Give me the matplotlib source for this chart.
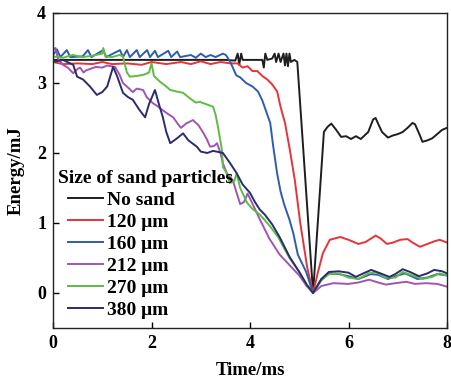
import matplotlib
matplotlib.use("Agg")
import matplotlib.pyplot as plt

plt.rcParams['font.family'] = ['Liberation Serif', 'DejaVu Serif']
plt.rcParams['font.weight'] = 'bold'

labels = ["No sand", "120 μm", "160 μm", "212 μm", "270 μm", "380 μm"]
legend_title = "Size of sand particles"
colors = ["#1e1e1e", "#e4343a", "#2d5db0", "#a155b3", "#5dbb46", "#2a2c6e"]

t_nosand = [0, 3.5, 3.7, 3.75, 3.78, 3.82, 3.85, 4.25, 4.28, 4.31, 4.35, 4.45, 4.5, 4.53, 4.58, 4.62,
            4.68, 4.71, 4.74, 4.77, 4.8, 4.83, 4.9, 4.96, 5.28, 5.5, 5.57, 5.65, 5.75, 5.85, 5.95,
            6.05, 6.15, 6.25, 6.4, 6.5, 6.55, 6.6, 6.68, 6.8, 6.9, 7.0, 7.1, 7.2, 7.3, 7.35, 7.45,
            7.5, 7.6, 7.7, 7.8, 7.9, 8.0]
e_nosand = [3.33, 3.33, 3.32, 3.42, 3.26, 3.42, 3.33, 3.33, 3.22, 3.42, 3.33, 3.35, 3.42, 3.3, 3.42, 3.3,
            3.42, 3.25, 3.42, 3.24, 3.42, 3.3, 3.33, 3.3, 0.0, 2.3, 2.37, 2.42, 2.33, 2.23, 2.24,
            2.2, 2.24, 2.2, 2.3, 2.48, 2.5, 2.42, 2.3, 2.22, 2.25, 2.27, 2.3, 2.36, 2.43, 2.41, 2.25,
            2.16, 2.18, 2.21, 2.27, 2.33, 2.36]

t_120 = [0, 0.2, 0.5, 0.8, 1.0, 1.2, 1.5, 1.8, 2.0, 2.3, 2.6, 2.8, 3.0, 3.2, 3.4, 3.6, 3.75,
         3.85, 3.95, 4.05, 4.15, 4.25, 4.35, 4.45, 4.55, 4.62, 4.71, 4.81, 4.91, 5.02, 5.16, 5.28,
         5.38, 5.48, 5.62, 5.83, 6.0, 6.2, 6.35, 6.55, 6.65, 6.78, 6.9, 7.05, 7.2, 7.3, 7.45, 7.6,
         7.75, 7.85, 8.0]
e_120 = [3.3, 3.27, 3.28, 3.27, 3.3, 3.27, 3.28, 3.26, 3.3, 3.27, 3.3, 3.27, 3.31, 3.27, 3.3, 3.28, 3.28,
         3.22, 3.24, 3.17, 3.17, 3.1, 3.05, 2.98, 2.88, 2.66, 2.43, 2.04, 1.61, 1.0, 0.37, 0.0,
         0.3, 0.57, 0.76, 0.8, 0.76, 0.7, 0.73, 0.82, 0.78, 0.7, 0.72, 0.76, 0.77, 0.72, 0.66, 0.7,
         0.74, 0.76, 0.72]

t_160 = [0, 0.08, 0.15, 0.28, 0.35, 0.6, 0.71, 0.78, 1.02, 1.08, 1.36, 1.42, 1.5, 1.56, 1.7, 1.76,
         1.91, 1.97, 2.07, 2.13, 2.34, 2.4, 2.52, 2.58, 2.8, 2.9, 3.0, 3.1, 3.2, 3.3, 3.45, 3.51,
         3.6, 3.72, 3.8, 3.92, 4.05, 4.16, 4.25, 4.32, 4.41, 4.47, 4.55, 4.62, 4.7, 4.8, 4.88,
         4.97, 5.14, 5.28, 5.45, 5.6, 5.8, 6.0, 6.2, 6.45, 6.6, 6.8, 7.0, 7.15, 7.4, 7.6, 7.8, 8.0]
e_160 = [3.4, 3.48, 3.37, 3.47, 3.37, 3.38, 3.47, 3.37, 3.47, 3.37, 3.47, 3.37, 3.47, 3.37, 3.47, 3.37,
         3.47, 3.37, 3.46, 3.37, 3.46, 3.37, 3.45, 3.37, 3.4, 3.36, 3.42, 3.37, 3.4, 3.37, 3.42, 3.4,
         3.3, 3.11, 3.08, 3.0, 2.95, 2.88, 2.75, 2.61, 2.43, 2.1, 1.71, 1.45, 1.25, 1.05, 0.85,
         0.55, 0.3, 0.0, 0.2, 0.28, 0.27, 0.24, 0.2, 0.27, 0.26, 0.2, 0.25, 0.28, 0.2, 0.22, 0.27, 0.25]

t_212 = [0, 0.05, 0.1, 0.2, 0.3, 0.41, 0.5, 0.55, 0.62, 0.67, 0.75, 0.87, 1.0, 1.1, 1.26, 1.35, 1.42,
         1.5, 1.62, 1.7, 1.83, 1.9, 2.03, 2.1, 2.23, 2.35, 2.44, 2.55, 2.6, 2.7, 2.84, 2.95, 3.05,
         3.12, 3.19, 3.27, 3.33, 3.4, 3.45, 3.53, 3.65, 3.72, 3.8, 3.88, 3.95, 4.0, 4.1, 4.2, 4.39,
         4.6, 4.8, 5.0, 5.15, 5.28, 5.45, 5.69, 6.0, 6.2, 6.42, 6.6, 6.76, 6.95, 7.17, 7.35, 7.57,
         7.8, 8.0]
e_212 = [3.47, 3.5, 3.35, 3.26, 3.22, 3.14, 3.2, 3.22, 3.15, 3.18, 3.2, 3.23, 3.22, 3.25, 3.23, 3.12, 3.0,
         2.95, 2.87, 2.92, 2.9, 2.8, 2.71, 2.68, 2.61, 2.55, 2.51, 2.4, 2.36, 2.42, 2.47, 2.4, 2.29,
         2.2, 2.09, 2.1, 2.14, 2.0, 1.85, 1.71, 1.61, 1.45, 1.27, 1.3, 1.42, 1.35, 1.2, 1.05, 0.78,
         0.55, 0.4, 0.25, 0.1, 0.0, 0.1, 0.14, 0.13, 0.15, 0.19, 0.15, 0.12, 0.14, 0.16, 0.13, 0.14,
         0.13, 0.09]

t_270 = [0, 0.2, 0.4, 0.6, 0.8, 1.0, 1.02, 1.06, 1.2, 1.35, 1.42, 1.5, 1.56, 1.7, 1.85, 1.95, 2.0,
         2.05, 2.17, 2.3, 2.38, 2.5, 2.64, 2.78, 2.9, 2.98, 3.1, 3.25, 3.3, 3.35, 3.43, 3.45, 3.52,
         3.59, 3.68, 3.73, 3.8, 3.94, 4.05, 4.2, 4.41, 4.57, 4.8, 5.0, 5.15, 5.28, 5.45, 5.6, 5.8,
         6.0, 6.2, 6.4, 6.55, 6.75, 6.95, 7.1, 7.3, 7.5, 7.7, 7.85, 8.0]
e_270 = [3.38, 3.36, 3.4, 3.37, 3.39, 3.42, 3.5, 3.38, 3.37, 3.4, 3.38, 3.15, 3.09, 3.1, 3.12, 3.15, 3.28,
         3.1, 3.02, 2.95, 2.9, 2.88, 2.86, 2.78, 2.72, 2.73, 2.7, 2.66, 2.55, 2.37, 2.04, 1.8, 1.72,
         1.57, 1.6, 1.71, 1.5, 1.29, 1.2, 1.12, 0.95, 0.8, 0.5, 0.3, 0.12, 0.0, 0.18, 0.27, 0.28,
         0.22, 0.2, 0.28, 0.3, 0.22, 0.22, 0.3, 0.25, 0.2, 0.23, 0.28, 0.25]

t_380 = [0, 0.2, 0.41, 0.49, 0.61, 0.75, 0.89, 1.0, 1.1, 1.22, 1.3, 1.42, 1.52, 1.62, 1.75, 1.87, 1.95,
         2.07, 2.15, 2.23, 2.3, 2.38, 2.5, 2.64, 2.75, 2.92, 3.0, 3.13, 3.25, 3.39, 3.45, 3.6, 3.73,
         3.85, 4.0, 4.1, 4.2, 4.3, 4.45, 4.6, 4.8, 5.0, 5.15, 5.28, 5.45, 5.6, 5.8, 6.0, 6.15, 6.3,
         6.46, 6.65, 6.83, 6.95, 7.1, 7.25, 7.43, 7.6, 7.74, 7.9, 8.0]
e_380 = [3.3, 3.33, 3.26, 3.09, 3.05, 2.95, 2.83, 2.87, 2.95, 3.23, 3.1, 2.86, 2.8, 2.76, 2.62, 2.51, 2.7,
         2.9, 2.7, 2.51, 2.3, 2.14, 2.2, 2.28, 2.18, 2.09, 2.02, 2.0, 2.03, 2.01, 2.0, 1.85, 1.71,
         1.55, 1.43, 1.3, 1.19, 1.12, 0.98, 0.8, 0.52, 0.3, 0.12, 0.0, 0.2, 0.3, 0.31, 0.29, 0.23, 0.28,
         0.33, 0.28, 0.23, 0.27, 0.34, 0.3, 0.24, 0.28, 0.33, 0.31, 0.28]

series = [(t_nosand, e_nosand), (t_120, e_120), (t_160, e_160),
          (t_212, e_212), (t_270, e_270), (t_380, e_380)]

fig = plt.figure(figsize=(4.52, 3.79), dpi=100)
ax = fig.add_axes([0.1173, 0.1346, 0.8717, 0.8311])

for (t, e), c, lab in zip(series, colors, labels):
    ax.plot(t, e, color=c, lw=1.4, label=lab)

ax.set_xlim(0, 8)
ax.set_ylim(-0.5, 4)
ax.set_xticks([0, 2, 4, 6, 8])
ax.set_yticks([0, 1, 2, 3, 4])
ax.tick_params(direction='in', length=4, width=1, labelsize=13, pad=5)
for lbl in ax.get_xticklabels() + ax.get_yticklabels():
    lbl.set_fontweight('bold')
for s in ax.spines.values():
    s.set_linewidth(1.0)
    s.set_color('#222222')

ax.set_xlabel("Time/ms", fontsize=13.5, fontweight='bold', labelpad=7)
ax.set_ylabel("Energy/mJ", fontsize=13.5, fontweight='bold', labelpad=9)

ax.text(0.0127, 0.476, legend_title, transform=ax.transAxes, ha='left', va='center',
        fontsize=14, fontweight='bold')
leg = ax.legend(loc='lower left', bbox_to_anchor=(0.038, 0.03), frameon=False,
                prop={'size': 14, 'weight': 'bold'},
                handlelength=1.8, handletextpad=0.2, labelspacing=0.22,
                borderaxespad=0.0, borderpad=0.0)

fig.savefig("out.png", dpi=100)
